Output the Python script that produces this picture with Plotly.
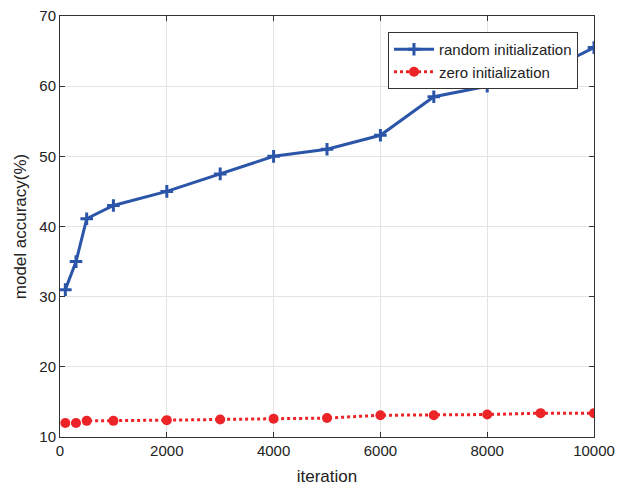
import plotly.graph_objects as go

iterations = [100, 300, 500, 1000, 2000, 3000, 4000, 5000, 6000, 7000, 8000, 9000, 10000]
random_init = [31, 35, 41.1, 43, 45, 47.5, 50, 51, 53, 58.5, 60, 61.7, 65.5]
zero_init = [12, 12, 12.3, 12.3, 12.4, 12.5, 12.6, 12.7, 13.1, 13.1, 13.2, 13.4, 13.4]

x_ticks = [0, 2000, 4000, 6000, 8000, 10000]
x_tick_labels = ["0", "2000", "4000", "6000", "8000", "10000"]
y_ticks = [10, 20, 30, 40, 50, 60, 70]

fig = go.Figure()
fig.add_trace(go.Scatter(
    x=iterations, y=random_init, mode="lines+markers", name="random initialization",
    line=dict(color="#2b55a8", width=3),
    marker=dict(symbol="cross-thin", size=9, line=dict(color="#2b55a8", width=3), color="#2b55a8"),
))
fig.add_trace(go.Scatter(
    x=iterations, y=zero_init, mode="lines+markers", name="zero initialization",
    line=dict(color="#ec2427", width=3, dash="dot"),
    marker=dict(symbol="circle", size=10, color="#ec2427"),
))

axis_common = dict(
    showline=True, linecolor="#333333", linewidth=1, mirror="ticks",
    ticks="inside", ticklen=5, tickcolor="#333333",
    showgrid=True, gridcolor="#e3e3e3", gridwidth=1, zeroline=False,
    automargin=False, ticklabeloverflow="allow",
    tickfont=dict(family="Liberation Sans, Arial", size=15, color="#222222"),
)

# page body has an 8px default margin, so the figure is sized/offset to compensate
fig.update_layout(
    width=616, height=483,
    margin=dict(l=52, r=30, t=8, b=54),
    paper_bgcolor="white", plot_bgcolor="white",
    font=dict(family="Liberation Sans, Arial", color="#222222"),
    xaxis=dict(range=[0, 10000], tickvals=x_ticks, ticktext=x_tick_labels,
               title=dict(text="iteration", font=dict(size=17), standoff=12), **axis_common),
    yaxis=dict(range=[10, 70], tickvals=y_ticks,
               title=dict(text="model accuracy(%)", font=dict(size=17), standoff=8), **axis_common),
    legend=dict(x=0.97, y=0.962, xanchor="right", yanchor="top",
                bgcolor="white", bordercolor="#333333", borderwidth=1,
                font=dict(size=15, family="Liberation Sans, Arial"),
                tracegroupgap=0, itemwidth=40),
    showlegend=True,
)

fig.write_html("out.html")
